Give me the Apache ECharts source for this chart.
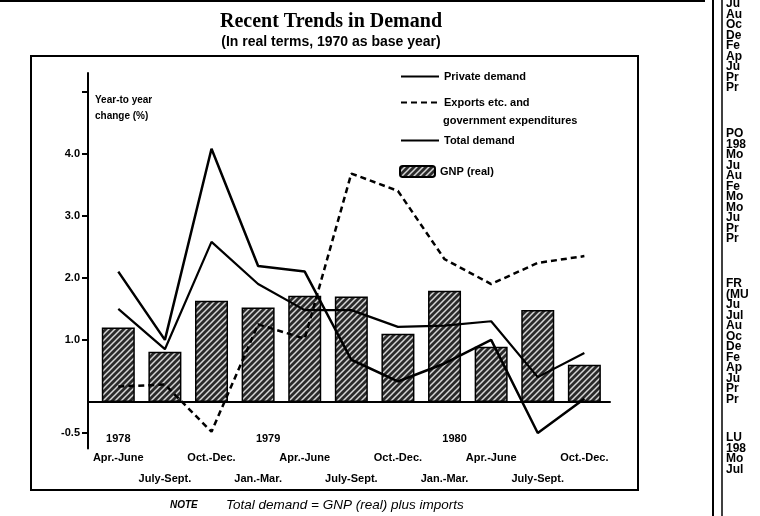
<!DOCTYPE html>
<html><head><meta charset="utf-8">
<script src="https://cdn.jsdelivr.net/npm/echarts@6/dist/echarts.min.js"></script>
<style>html,body{margin:0;padding:0;background:#fff}#c{width:760px;height:516px}</style>
</head><body><div id="c"></div>
<script>
// ---- data ----
const quarterLabels = ['Apr.-June','July-Sept.','Oct.-Dec.','Jan.-Mar.','Apr.-June','July-Sept.','Oct.-Dec.','Jan.-Mar.','Apr.-June','July-Sept.','Oct.-Dec.'];
const yearLabels = ['1978','','','1979','','','','1980','','',''];
const gnpReal       = [1.20, 0.81, 1.63, 1.52, 1.71, 1.70, 1.10, 1.79, 0.89, 1.48, 0.60];
const privateDemand = [2.10, 1.00, 4.08, 2.19, 2.10, 0.68, 0.33, 0.62, 1.00, -0.50, 0.05];
const exportsGov    = [0.25, 0.28, -0.48, 1.25, 1.02, 3.68, 3.40, 2.30, 1.90, 2.24, 2.35];
const totalDemand   = [1.50, 0.85, 2.58, 1.90, 1.48, 1.48, 1.21, 1.23, 1.30, 0.40, 0.79];
const yLabelValues = [-0.5, 1, 2, 3, 4];
const yTickValues  = [-0.5, 1, 2, 3, 4, 5];
const seriesNames = ['Private demand', 'Exports etc. and government expenditures', 'Total demand', 'GNP (real)'];
const exportsLegendLines = ['Exports etc. and', 'government expenditures'];
const titleText = 'Recent Trends in Demand';
const subtitleText = '(In real terms, 1970 as base year)';
const yAxisTitle = 'Year-to year\nchange (%)';
const noteLabel = 'NOTE';
const noteText = 'Total demand = GNP (real) plus imports';
const sideColumn = [
  ['Ju','Au','Oc','De','Fe','Ap','Ju','Pr','Pr'],
  ['PO','198','Mo','Ju','Au','Fe','Mo','Mo','Ju','Pr','Pr'],
  ['FR','(MU','Ju','Jul','Au','Oc','De','Fe','Ap','Ju','Pr','Pr'],
  ['LU','198','Mo','Jul']
];

const pts = arr => arr.map((v, i) => [i, v]);
const FONT = 'Liberation Sans';
const idx = quarterLabels.map((_, i) => i);
const evenIdx = idx.filter(i => i % 2 === 0);
const oddIdx = idx.filter(i => i % 2 === 1);
const yearIdx = idx.filter(i => yearLabels[i]);

// hatch pattern for bars
const pc = document.createElement('canvas'); pc.width = 6; pc.height = 6;
const g = pc.getContext('2d');
g.fillStyle = '#2a2a2a'; g.fillRect(0, 0, 6, 6);
g.strokeStyle = '#d6d6d6'; g.lineWidth = 1.5;
g.beginPath();
g.moveTo(-1, 7); g.lineTo(7, -1);
g.moveTo(-4, 4); g.lineTo(4, -4);
g.moveTo(2, 10); g.lineTo(10, 2);
g.stroke();

const chart = echarts.init(document.getElementById('c'), null, {renderer: 'canvas'});

const labelFont = {fontFamily: FONT, fontSize: 11, fontWeight: 'bold', color: '#000', lineHeight: 13};
function labelAxis(values, margin, formatter, rich) {
  return {
    type: 'value', min: -0.65, max: 10.55, position: 'bottom',
    axisLine: {show: false, onZero: false}, axisTick: {show: false}, splitLine: {show: false},
    axisLabel: Object.assign({customValues: values, margin: margin, showMinLabel: true, showMaxLabel: true,
      hideOverlap: false, formatter: formatter, rich: rich || {}}, labelFont)
  };
}

const legendCommon = {
  orient: 'vertical', left: 400, padding: 0, itemWidth: 38, itemHeight: 11, itemGap: 0,
  selectedMode: false, itemStyle: {opacity: 0},
  textStyle: {fontFamily: FONT, fontSize: 11, fontWeight: 'bold', color: '#000'}
};

const sideGraphics = [];
const sideStarts = [3, 133, 283, 437];
sideColumn.forEach((lines, k) => {
  sideGraphics.push({
    type: 'text', left: 726, top: sideStarts[k] - 5,
    style: {text: lines.join('\n'), font: 'bold 12px ' + FONT, fill: '#000', lineHeight: 10.5}
  });
});

chart.setOption({
  animation: false,
  backgroundColor: '#fff',
  title: {
    text: titleText, subtext: subtitleText, left: 331, top: 12, textAlign: 'center', itemGap: 3, padding: 0,
    textStyle: {fontFamily: 'Liberation Serif', fontWeight: 'bold', fontSize: 20, color: '#000'},
    subtextStyle: {fontFamily: FONT, fontWeight: 'bold', fontSize: 14, color: '#000'}
  },
  grid: {left: 88, right: 150, top: 73, bottom: 67.5, containLabel: false},
  xAxis: [
    {type: 'value', min: -0.65, max: 10.55,
     axisLine: {show: true, onZero: true, lineStyle: {color: '#000', width: 2}},
     axisTick: {show: false}, axisLabel: {show: false}, splitLine: {show: false}},
    labelAxis(yearIdx, -16, v => {
      const i = Math.round(v);
      return i === 0 ? yearLabels[i] : '{s|' + yearLabels[i] + '}';
    }, {s: Object.assign({padding: [0, 0, 0, 20]}, labelFont)}),
    labelAxis(evenIdx, 3, v => quarterLabels[Math.round(v)]),
    labelAxis(oddIdx, 24, v => quarterLabels[Math.round(v)])
  ],
  yAxis: {
    type: 'value', min: -0.75, max: 5.3,
    axisLine: {show: true, onZero: false, lineStyle: {color: '#000', width: 2}},
    axisTick: {show: true, customValues: yTickValues, length: 6, lineStyle: {color: '#000', width: 2}},
    axisLabel: {customValues: yLabelValues, formatter: v => v.toFixed(1), color: '#000',
                fontFamily: FONT, fontSize: 11, fontWeight: 'bold', margin: 8},
    splitLine: {show: false},
    name: yAxisTitle, nameLocation: 'end', nameGap: -35,
    nameTextStyle: {align: 'left', verticalAlign: 'middle', padding: [0, 0, 0, 7], fontFamily: FONT,
                    fontSize: 10, fontWeight: 'bold', lineHeight: 16, color: '#000'}
  },
  legend: [
    Object.assign({}, legendCommon, {data: [seriesNames[0]], top: 71}),
    Object.assign({}, legendCommon, {data: [seriesNames[1]], top: 97, formatter: () => exportsLegendLines[0]}),
    Object.assign({}, legendCommon, {data: [seriesNames[2]], top: 135}),
    Object.assign({}, legendCommon, {data: [seriesNames[3]], top: 165, left: 399, itemWidth: 35, itemHeight: 11, itemStyle: {}})
  ],
  series: [
    {name: seriesNames[3], type: 'bar', data: pts(gnpReal), barWidth: 33, z: 1,
     itemStyle: {color: {image: pc, repeat: 'repeat'}, borderColor: '#000', borderWidth: 1.5}},
    {name: seriesNames[0], type: 'line', data: pts(privateDemand), symbol: 'none', z: 3, color: '#000',
     lineStyle: {color: '#000', width: 2.5}},
    {name: seriesNames[1], type: 'line', data: pts(exportsGov), symbol: 'none', z: 3, color: '#000',
     lineStyle: {color: '#000', width: 2.5, type: [6, 4]}},
    {name: seriesNames[2], type: 'line', data: pts(totalDemand), symbol: 'none', z: 3, color: '#000',
     lineStyle: {color: '#000', width: 2.2}}
  ],
  graphic: [
    {type: 'rect', shape: {x: 31, y: 56, width: 607, height: 434}, style: {fill: 'none', stroke: '#000', lineWidth: 2}, z: 0, silent: true},
    {type: 'line', shape: {x1: 0, y1: 1, x2: 705, y2: 1}, style: {stroke: '#000', lineWidth: 2}, silent: true},
    {type: 'line', shape: {x1: 713, y1: 0, x2: 713, y2: 516}, style: {stroke: '#000', lineWidth: 2}, silent: true},
    {type: 'line', shape: {x1: 722, y1: 0, x2: 722, y2: 516}, style: {stroke: '#000', lineWidth: 1.5}, silent: true},
    {type: 'text', left: 443, top: 115, style: {text: exportsLegendLines[1], font: 'bold 11px ' + FONT, fill: '#000'}},
    {type: 'text', left: 170, top: 500, style: {text: noteLabel, font: 'italic bold 10px ' + FONT, fill: '#000'}},
    {type: 'text', left: 226, top: 498, style: {text: noteText, font: 'italic 13.5px ' + FONT, fill: '#000'}}
  ].concat(sideGraphics)
});
</script></body></html>
